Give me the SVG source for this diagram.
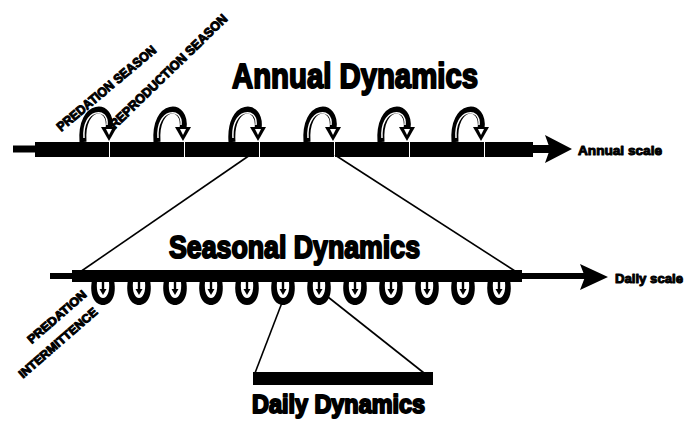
<svg xmlns="http://www.w3.org/2000/svg" xmlns:xlink="http://www.w3.org/1999/xlink" width="687" height="423" viewBox="0 0 687 423">
<style>
.title{font-family:"Liberation Sans",Arial,sans-serif;font-weight:bold;fill:#000;stroke:#000;stroke-width:2;stroke-linejoin:round;}
.lbl{font-family:"Liberation Sans",Arial,sans-serif;font-weight:bold;fill:#000;stroke:#000;stroke-width:1;stroke-linejoin:round;}
.conn{stroke:#000;stroke-width:1.6;fill:none;}
.bar{fill:#000;}
</style>
<defs>
<g id="uploop">
<path d="M -14 0 C -17 -40, 16 -40, 12 -13" fill="none" stroke="#000" stroke-width="7"/>
<path d="M -13 -4 C -15 -34, 12 -36, 10 -17" fill="none" stroke="#fff" stroke-width="1.5"/>
<polygon points="4,-15 20,-15 12,-1" fill="#000"/>
<polygon points="9,-13 15,-13 12,-7" fill="#fff"/>
</g>
<g id="downloop">
<path d="M -11 -2 C -14 14, -8 23, 0 23 C 8 23, 14 14, 11 -2 Z" fill="#000"/>
<path d="M -6 0 C -7 10, -4 16, 0 16 C 4 16, 7 10, 6 0 Z" fill="#fff"/>
<line x1="0" y1="0" x2="0" y2="9" stroke="#000" stroke-width="2.4"/>
<polygon points="-3.5,7 3.5,7 0,13" fill="#000"/>
</g>
</defs>

<g id="annual-scale">
<line x1="13" y1="149" x2="38" y2="149" stroke="#000" stroke-width="7"/>
<rect class="bar" x="35" y="142" width="74" height="15"/>
<rect class="bar" x="110" y="142" width="74" height="15"/>
<rect class="bar" x="185" y="142" width="74" height="15"/>
<rect class="bar" x="260" y="142" width="74" height="15"/>
<rect class="bar" x="335" y="142" width="74" height="15"/>
<rect class="bar" x="410" y="142" width="74" height="15"/>
<rect class="bar" x="485" y="142" width="48" height="15"/>
<line x1="530" y1="149" x2="552" y2="149" stroke="#000" stroke-width="8"/>
<polygon points="545,135 572,149 545,163 550,149" fill="#000"/>
<use xlink:href="#uploop" x="97" y="142"/>
<use xlink:href="#uploop" x="171" y="142"/>
<use xlink:href="#uploop" x="246" y="142"/>
<use xlink:href="#uploop" x="321" y="142"/>
<use xlink:href="#uploop" x="395" y="142"/>
<use xlink:href="#uploop" x="469" y="142"/>
<text class="lbl" x="578" y="155" font-size="13" textLength="84" lengthAdjust="spacingAndGlyphs">Annual scale</text>
</g>

<g id="season-labels">
<text class="lbl" font-size="13" text-anchor="middle" textLength="125" lengthAdjust="spacingAndGlyphs" transform="translate(106,88) rotate(-40)" y="5">PREDATION SEASON</text>
<text class="lbl" font-size="13" text-anchor="middle" textLength="158" lengthAdjust="spacingAndGlyphs" transform="translate(168,71) rotate(-44)" y="5">REPRODUCTION SEASON</text>
</g>

<g id="annual-title">
<text class="title" x="232" y="88" font-size="35" textLength="246" lengthAdjust="spacingAndGlyphs">Annual Dynamics</text>
</g>

<g id="connectors">
<line class="conn" x1="250" y1="155" x2="80" y2="272"/>
<line class="conn" x1="335" y1="155" x2="515" y2="271"/>
<line class="conn" x1="283" y1="300" x2="255" y2="373"/>
<line class="conn" x1="328" y1="297" x2="424" y2="373"/>
</g>

<g id="seasonal-title">
<text class="title" x="169" y="258" font-size="32" textLength="251" lengthAdjust="spacingAndGlyphs">Seasonal Dynamics</text>
</g>

<g id="daily-scale">
<line x1="50" y1="276" x2="75" y2="276" stroke="#000" stroke-width="6"/>
<rect class="bar" x="72" y="270" width="450" height="12"/>
<line x1="518" y1="276" x2="585" y2="276" stroke="#000" stroke-width="6"/>
<polygon points="580,264 608,277 580,290 585,277" fill="#000"/>
<use xlink:href="#downloop" x="103" y="282"/>
<use xlink:href="#downloop" x="139" y="282"/>
<use xlink:href="#downloop" x="175" y="282"/>
<use xlink:href="#downloop" x="211" y="282"/>
<use xlink:href="#downloop" x="247" y="282"/>
<use xlink:href="#downloop" x="283" y="282"/>
<use xlink:href="#downloop" x="319" y="282"/>
<use xlink:href="#downloop" x="355" y="282"/>
<use xlink:href="#downloop" x="391" y="282"/>
<use xlink:href="#downloop" x="427" y="282"/>
<use xlink:href="#downloop" x="463" y="282"/>
<use xlink:href="#downloop" x="499" y="282"/>
<text class="lbl" x="615" y="283" font-size="13" textLength="68" lengthAdjust="spacingAndGlyphs">Daily scale</text>
</g>

<g id="intermittence-label">
<text class="lbl" font-size="12" text-anchor="middle" textLength="74" lengthAdjust="spacingAndGlyphs" transform="translate(57,317) rotate(-41)" y="4">PREDATION</text>
<text class="lbl" font-size="12" text-anchor="middle" textLength="100" lengthAdjust="spacingAndGlyphs" transform="translate(58,343) rotate(-41)" y="4">INTERMITTENCE</text>
</g>

<g id="daily-dynamics">
<rect class="bar" x="253" y="372" width="180" height="13"/>
<text class="title" x="252" y="413" font-size="25" textLength="173" lengthAdjust="spacingAndGlyphs">Daily Dynamics</text>
</g>
</svg>
